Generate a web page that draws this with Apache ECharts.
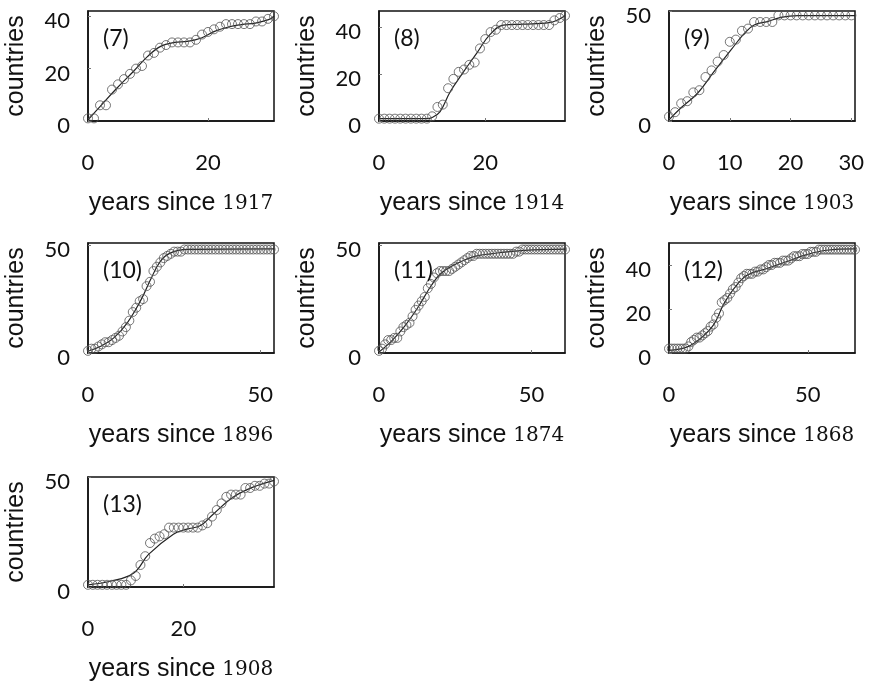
<!DOCTYPE html>
<html><head><meta charset="utf-8">
<script src="https://cdn.jsdelivr.net/npm/echarts@6/dist/echarts.min.js"></script>
<style>html,body{margin:0;padding:0;background:#fff}#c{width:874px;height:684px}</style>
</head><body><div id="c"></div>
<script>
// ---- data ----
const panelLabels = ['(7)', '(8)', '(9)', '(10)', '(11)', '(12)', '(13)'];
const baseYears = ['1917', '1914', '1903', '1896', '1874', '1868', '1908'];
const xMaxes = [31, 35, 30.6, 54, 61, 67, 39];
const yMaxes = [42, 47, 50, 51, 51, 50, 50];
const xTickLabels = [[0, 20], [0, 20], [0, 10, 20, 30], [0, 50], [0, 50], [0, 50], [0, 20]];
const yTickLabels = [[0, 20, 40], [0, 20, 40], [0, 50], [0, 50], [0, 50], [0, 20, 40], [0, 50]];

// observed cumulative counts, one per year (index = years since start)
const counts7 = [1,1,6,6,12,14,16,18,20,21,25,26,28,29,30,30,30,30,31,33,34,35,36,37,37,37,37,37,38,38,39,40];
const counts8 = [1,1,1,1,1,1,1,1,1,1,2,6,7,14,18,21,22,24,25,31,35,38,39,41,41,41,41,41,41,41,41,41,41,43,44,45];
const counts9 = [2,4,8,9,13,14,20,23,27,30,36,37,41,42,45,45,45,45,48,48,48,48,48,48,48,48,48,48,48,48,48];
const counts10 = [1,2,2,3,4,5,5,6,7,8,10,12,15,19,21,24,25,31,33,38,40,42,44,45,46,47,47,47,48,48,48,48,48,48,48,48,48,48,48,48,48,48,48,48,48,48,48,48,48,48,48,48,48,48,48];
const counts11 = [1,2,4,6,6,7,7,10,12,13,14,17,20,22,24,26,30,32,35,37,38,38,38,38,39,40,41,42,43,44,45,45,46,46,46,46,46,46,46,46,46,46,46,46,46,47,47,48,48,48,48,48,48,48,48,48,48,48,48,48,48,48];
const counts12 = [2,2,2,2,2,2,2,3,5,6,7,7,8,9,10,12,13,16,18,23,24,25,27,29,30,32,34,35,36,36,36,37,37,38,38,39,40,40,41,41,41,42,42,42,43,44,44,44,45,45,45,46,46,46,47,47,47,47,47,47,47,47,47,47,47,47,47,47];
const counts13 = [1,1,1,1,1,1,1,1,1,3,5,10,14,20,22,23,24,27,27,27,27,27,27,27,28,29,32,35,38,41,42,42,42,45,45,46,46,47,47,48];

// fitted curves: years and values
const fitYears7 = [0, 2, 4.8, 7.6, 9.9, 12.1, 14.4, 16.6, 18.9, 21.1, 23.4, 25.6, 27.9, 30.1, 31];
const fitValues7 = [0.4, 5.5, 12.5, 19, 24.6, 28.5, 30, 30.4, 31.7, 34.2, 35.9, 36.8, 37.4, 38.7, 40];
const fitYears8 = [0, 9, 10, 11.5, 13.4, 15.9, 18.4, 20.9, 23.4, 27, 32, 35];
const fitValues8 = [1, 1, 1.5, 4, 12.5, 21, 29, 37, 41, 41.4, 42, 45];
const fitYears9 = [0, 1.9, 4.7, 7.4, 10.2, 12.4, 14, 16.2, 18.4, 21.2, 30.6];
const fitValues9 = [0.5, 5.8, 12.6, 22.4, 32.3, 39.8, 43.6, 45.2, 47.1, 47.9, 47.9];
const fitYears10 = [0, 3.7, 7.5, 11.4, 15.3, 18.1, 21, 24, 28.8, 54];
const fitValues10 = [0.8, 3.1, 7, 14, 24.4, 33.8, 42.5, 46.4, 48, 48.3];
const fitYears11 = [0, 4.1, 8.5, 12.8, 17.2, 20.4, 25.9, 31.3, 36.7, 47.6, 61];
const fitValues11 = [0.5, 5.5, 12.6, 21.2, 31.4, 37, 41.7, 44.8, 46, 47.6, 48.2];
const fitYears12 = [0, 6.6, 11.4, 16.1, 19.7, 23.3, 28.1, 35.3, 42.5, 49.6, 56.8, 67];
const fitValues12 = [1.2, 2.8, 6.7, 12.9, 22.2, 29.1, 35.3, 38.4, 41.6, 44.7, 46.7, 47.3];
const fitYears13 = [0, 4.7, 9.6, 12.7, 17.9, 20.7, 23.5, 26.3, 30.4, 34.6, 39];
const fitValues13 = [1, 2.6, 6.4, 14.8, 24, 26.3, 27.8, 33.2, 40.8, 45.4, 48.5];

const allCounts = [counts7, counts8, counts9, counts10, counts11, counts12, counts13];
const allFitYears = [fitYears7, fitYears8, fitYears9, fitYears10, fitYears11, fitYears12, fitYears13];
const allFitValues = [fitValues7, fitValues8, fitValues9, fitValues10, fitValues11, fitValues12, fitValues13];

// ---- layout ----
const colLefts = [88, 379, 669];
const rowTops = [11, 243, 477];
const gridW = 186, gridH = 110;

const grids = [], xAxes = [], yAxes = [], series = [], graphics = [];
for (let i = 0; i < 7; i++) {
  const col = i % 3, row = Math.floor(i / 3);
  const left = colLefts[col], top = rowTops[row];
  grids.push({ left: left, top: top, width: gridW, height: gridH, show: true,
    borderColor: '#111', borderWidth: 1.5, backgroundColor: 'transparent' });
  xAxes.push({
    type: 'value', gridIndex: i, min: 0, max: xMaxes[i],
    axisLine: { show: true, lineStyle: { color: '#111', width: 1.5 } },
    axisTick: { show: true, inside: true, length: 3, customValues: xTickLabels[i], lineStyle: { color: '#777' } },
    axisLabel: { customValues: xTickLabels[i], margin: 31, fontFamily: 'Lato', fontSize: 22, color: '#111' },
    splitLine: { show: false },
    name: '{a|years since }{b|' + baseYears[i] + '}',
    nameLocation: 'middle', nameGap: 70,
    nameTextStyle: { rich: {
      a: { fontFamily: 'Liberation Sans', fontSize: 25, color: '#111' },
      b: { fontFamily: 'DejaVu Serif', fontSize: 20, color: '#111' } } }
  });
  yAxes.push({
    type: 'value', gridIndex: i, min: 0, max: yMaxes[i],
    axisLine: { show: true, lineStyle: { color: '#111', width: 1.5 } },
    axisTick: { show: true, inside: true, length: 3, customValues: yTickLabels[i], lineStyle: { color: '#777' } },
    axisLabel: { customValues: yTickLabels[i], margin: 18, verticalAlign: 'top', lineHeight: 10,
      fontFamily: 'Lato', fontSize: 22, color: '#111' },
    splitLine: { show: false },
    name: 'countries', nameLocation: 'middle', nameGap: 59, nameRotate: 90,
    nameTextStyle: { fontFamily: 'Liberation Sans', fontSize: 25, color: '#111' }
  });
  series.push({
    type: 'scatter', xAxisIndex: i, yAxisIndex: i, clip: false,
    symbol: 'circle', symbolSize: 9,
    itemStyle: { color: 'rgba(255,255,255,0)', borderColor: '#555', borderWidth: 1 },
    data: allCounts[i].map((v, yr) => [yr, v]), z: 3
  });
  series.push({
    type: 'line', xAxisIndex: i, yAxisIndex: i, clip: false, smooth: 0.4,
    showSymbol: false, lineStyle: { color: '#222', width: 1.2 },
    data: allFitYears[i].map((yr, k) => [yr, allFitValues[i][k]]), z: 2
  });
  graphics.push({ type: 'text', left: left + 15, top: top + 16, z: 10,
    style: { text: panelLabels[i], font: '23px Lato', fill: '#111' } });
}

const chart = echarts.init(document.getElementById('c'), null, { renderer: 'canvas' });
chart.setOption({
  animation: false,
  backgroundColor: '#fff',
  grid: grids, xAxis: xAxes, yAxis: yAxes, series: series, graphic: graphics
});
</script>
</body></html>
